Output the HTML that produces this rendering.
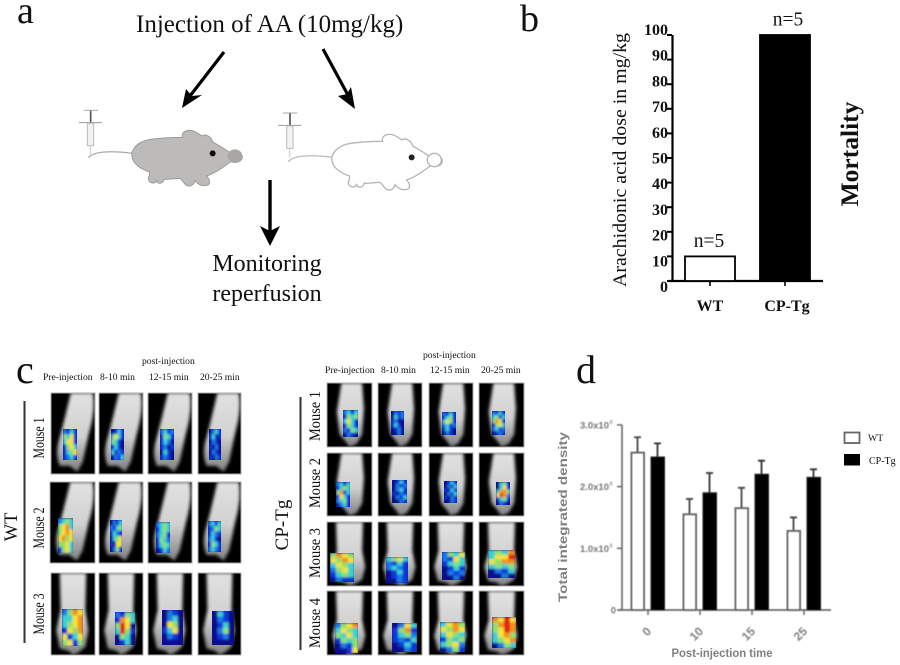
<!DOCTYPE html>
<html>
<head>
<meta charset="utf-8">
<title>Figure</title>
<style>
html,body{margin:0;padding:0;background:#fff;}
svg{display:block;}
text{font-family:"Liberation Serif",serif;fill:#111;}
.sans{font-family:"Liberation Sans",sans-serif;}
</style>
</head>
<body>
<svg id="fig" width="900" height="665" viewBox="0 0 900 665" xmlns="http://www.w3.org/2000/svg">
<defs>
  <filter id="soft" x="-20%" y="-20%" width="140%" height="140%"><feGaussianBlur stdDeviation="0.5"/></filter>
  <filter id="heatblur" x="-10%" y="-10%" width="120%" height="120%"><feGaussianBlur stdDeviation="1"/></filter>
  <filter id="bodyblur" x="-20%" y="-20%" width="140%" height="140%"><feGaussianBlur stdDeviation="1.5"/></filter>
  <linearGradient id="bodygrad" x1="0" y1="0" x2="0" y2="1">
    <stop offset="0" stop-color="#e2e2e2"/>
    <stop offset="0.55" stop-color="#d0d0d0"/>
    <stop offset="1" stop-color="#808080"/>
  </linearGradient>
  <g id="syringe">
    <path d="M72 61H115" stroke="#aaa" stroke-width="3" fill="none"/>
    <path d="M93 62V98" stroke="#555" stroke-width="5" fill="none"/>
    <path d="M58 98H127" stroke="#999" stroke-width="3" fill="none"/>
    <rect x="83" y="100" width="19" height="67" fill="#f2f2f2" stroke="#bbb" stroke-width="3"/>
    <path d="M92 168V195" stroke="#ccc" stroke-width="3" fill="none"/>
  </g>
  <path id="mouse-body" d="M216 188C225 160 255 148 290 146C320 142 350 142 368 142C362 125 385 115 405 125C415 130 422 136 426 138C435 130 455 140 458 156C480 168 495 178 510 188C525 175 550 190 547 203C543 218 525 220 512 215C490 232 465 250 440 258C450 270 455 285 435 287C420 288 410 278 405 272C400 290 385 292 375 282C368 275 365 268 360 265C340 266 325 268 312 268C310 280 295 285 290 272C282 285 265 278 265 265C268 258 270 250 268 246C235 235 212 215 216 188Z"/>
</defs>

<!-- Panel a -->
<g>
  <text x="17" y="23" font-size="38">a</text>
  <text x="136" y="32" font-size="25">Injection of AA (10mg/kg)</text>
  <g>
    <path d="M224 52L190 96" stroke="#000" stroke-width="3.2" fill="none"/>
    <path d="M182 108L186 89L192 96L202 95Z" fill="#000"/>
  </g>
  <g>
    <path d="M323 49L349 97" stroke="#000" stroke-width="3.2" fill="none"/>
    <path d="M355 109L338 96L347 94L351 87Z" fill="#000"/>
  </g>
  <g>
    <path d="M270 180V232" stroke="#000" stroke-width="3.4" fill="none"/>
    <path d="M270 246L260 226L270 231L280 226Z" fill="#000"/>
  </g>
  <text x="267" y="271" font-size="24" text-anchor="middle">Monitoring</text>
  <text x="267" y="301" font-size="24" text-anchor="middle">reperfusion</text>

  <g transform="translate(60 90) scale(.3333)" filter="url(#soft)">
    <use href="#syringe" transform="translate(-1 0)"/>
    <path d="M85 203C105 180 170 184 218 190" fill="none" stroke="#aaa" stroke-width="4"/>
    <use href="#mouse-body" fill="#bdbaba" stroke="#9a9a9a" stroke-width="3"/>
    <circle cx="458" cy="190" r="9" fill="#111"/>
    <ellipse cx="525" cy="198" rx="22" ry="20" fill="#a9a6a6"/>
  </g>
  <g transform="translate(260 94) scale(.3333)" filter="url(#soft)">
    <use href="#syringe" transform="translate(-3 -4)"/>
    <path d="M85 203C105 180 170 184 218 190" fill="none" stroke="#bbb" stroke-width="4"/>
    <use href="#mouse-body" fill="#fff" stroke="#b5b5b5" stroke-width="4"/>
    <circle cx="455" cy="190" r="9" fill="#222"/>
    <ellipse cx="523" cy="198" rx="21" ry="20" fill="#fff" stroke="#b5b5b5" stroke-width="4"/>
  </g>
</g>

<!-- Panel b -->
<g id="chart-b">
  <text x="520" y="31" font-size="38">b</text>
  <text font-size="19" text-anchor="middle" transform="translate(626 160) rotate(-90)" textLength="254" lengthAdjust="spacingAndGlyphs">Arachidonic acid dose in mg/kg</text>
  <text font-size="25.5" font-weight="bold" text-anchor="middle" transform="translate(858 154) rotate(-90)">Mortality</text>
</g>

<!-- Panel c -->
<g id="panel-c">
  <text x="16" y="383" font-size="40">c</text>
  <text x="142" y="364" font-size="9.6">post-injection</text>
  <text x="43" y="380" font-size="9.6">Pre-injection</text>
  <text x="100" y="380" font-size="9.6">8-10 min</text>
  <text x="149" y="380" font-size="9.6">12-15 min</text>
  <text x="200" y="380" font-size="9.6">20-25 min</text>
  <path d="M24.500 401V643" stroke="#333" stroke-width="2"/>
  <text font-size="18.500" text-anchor="middle" transform="translate(17 527) rotate(-90)">WT</text>
  <text font-size="15.500" text-anchor="middle" textLength="41" lengthAdjust="spacingAndGlyphs" transform="translate(44 438) rotate(-90)">Mouse 1</text>
  <text font-size="15.500" text-anchor="middle" textLength="41" lengthAdjust="spacingAndGlyphs" transform="translate(44 528) rotate(-90)">Mouse 2</text>
  <text font-size="15.500" text-anchor="middle" textLength="41" lengthAdjust="spacingAndGlyphs" transform="translate(44 614) rotate(-90)">Mouse 3</text>

  <text x="423" y="358" font-size="9.6">post-injection</text>
  <text x="325" y="373" font-size="9.6">Pre-injection</text>
  <text x="381" y="373" font-size="9.6">8-10 min</text>
  <text x="430" y="373" font-size="9.6">12-15 min</text>
  <text x="481" y="373" font-size="9.6">20-25 min</text>
  <path d="M300.500 397V650" stroke="#333" stroke-width="2"/>
  <text font-size="19" text-anchor="middle" transform="translate(288 525) rotate(-90)">CP-Tg</text>
  <text font-size="15.500" text-anchor="middle" textLength="50" lengthAdjust="spacingAndGlyphs" transform="translate(320 416) rotate(-90)">Mouse 1</text>
  <text font-size="15.500" text-anchor="middle" textLength="50" lengthAdjust="spacingAndGlyphs" transform="translate(320 483) rotate(-90)">Mouse 2</text>
  <text font-size="15.500" text-anchor="middle" textLength="50" lengthAdjust="spacingAndGlyphs" transform="translate(320 553) rotate(-90)">Mouse 3</text>
  <text font-size="15.500" text-anchor="middle" textLength="50" lengthAdjust="spacingAndGlyphs" transform="translate(320 623) rotate(-90)">Mouse 4</text>
</g>

<!-- Panel d -->
<g id="chart-d">
  <text x="576" y="383" font-size="40">d</text>
  <text class="sans" font-size="11.500" font-weight="bold" text-anchor="middle" style="fill:#808080" transform="translate(567 517) rotate(-90)" textLength="170" lengthAdjust="spacingAndGlyphs">Total integrated density</text>
  <text class="sans" x="722" y="657" font-size="12" font-weight="bold" text-anchor="middle" style="fill:#808080" textLength="101" lengthAdjust="spacingAndGlyphs">Post-injection time</text>
  <rect x="844.500" y="432.500" width="15" height="10.500" fill="#fff" stroke="#666" stroke-width="1.800"/>
  <text x="868" y="441" font-size="9.800">WT</text>
  <rect x="844" y="454" width="16" height="11.500" fill="#000"/>
  <text x="869" y="464" font-size="10">CP-Tg</text>
</g>

<script>
/* Panel b data */
var doseCategories = ['WT', 'CP-Tg'];
var doseValues = [10, 100];
var doseCounts = ['n=5', 'n=5'];
var doseTicks = [0, 10, 20, 30, 40, 50, 60, 70, 80, 90, 100];

/* Panel d data */
var timeCategories = ['0', '10', '15', '25'];
var wtDensity = [2.55, 1.55, 1.65, 1.28];
var cpTgDensity = [2.48, 1.90, 2.20, 2.15];
var wtError = [0.25, 0.25, 0.33, 0.22];
var cpTgError = [0.22, 0.32, 0.22, 0.13];
var densityTicks = [0, 1, 2, 3];
var densityTickLabels = ['0', '1.0x10', '2.0x10', '3.0x10'];

var NS = 'http://www.w3.org/2000/svg';
function mk(parent, tag, attrs, txt) {
  var el = document.createElementNS(NS, tag);
  for (var k in attrs) el.setAttribute(k, attrs[k]);
  if (txt !== undefined) el.textContent = txt;
  parent.appendChild(el);
  return el;
}

/* ---------- chart b ---------- */
(function () {
  var g = document.getElementById('chart-b');
  var yB = function (v) { return 281 - v * 2.46; };
  var yLabel = function (v) { return 292 - v * 2.57; };
  var xB = function (i) { return 710 + i * 75; };
  var axisY = mk(g, 'line', {x1: 672.5, x2: 672.5, y1: yB(100), y2: yB(0), stroke: '#000', 'stroke-width': 2.2});
  
  
  var axisX = mk(g, 'line', {x1: 668, x2: 823, y1: yB(0), y2: yB(0), stroke: '#000', 'stroke-width': 2.2});
  
  
  doseTicks.forEach(function (t) {
    var tick = mk(g, 'line', {x1: 667, x2: 672, y1: yB(t), y2: yB(t), stroke: '#000', 'stroke-width': 2});
    
    
    var lab = mk(g, 'text', {x: 668, y: yLabel(t), 'font-size': 16, 'font-weight': 'bold', 'text-anchor': 'end'}, String(t));
    
    
  });
  doseCategories.forEach(function (c, i) {
    var v = doseValues[i];
    var x = xB(i);
    var bar = mk(g, 'rect', {x: x - 25, y: yB(v), width: 50, height: yB(0) - yB(v), fill: i === 0 ? '#fff' : '#000', stroke: '#000', 'stroke-width': 1.8});
    
    
    var tick = mk(g, 'line', {x1: x, x2: x, y1: yB(0), y2: yB(0) + 5, stroke: '#000', 'stroke-width': 1.6});
    
    
    var lab = mk(g, 'text', {x: x + (i === 1 ? 2 : 0), y: 311, 'font-size': 16, 'font-weight': 'bold', 'text-anchor': 'middle'}, c);
    
    
    var n = mk(g, 'text', {x: x + (i === 0 ? -1 : 3), y: yB(v) - 9.5, 'font-size': 19.5, 'text-anchor': 'middle'}, doseCounts[i]);
    
    
  });
})();

/* ---------- chart d ---------- */
(function () {
  var root = document.getElementById('chart-d');
  var g = mk(root, 'g', {filter: 'url(#soft)'});
  
  
  var yD = function (v) { return 610 - v * 61.7; };
  var xD = function (i) { return 648 + i * 52; };
  var axisY = mk(g, 'line', {x1: 622, x2: 622, y1: yD(3), y2: yD(0), stroke: '#666', 'stroke-width': 1.6});
  
  
  var axisX = mk(g, 'line', {x1: 618, x2: 831, y1: yD(0), y2: yD(0), stroke: '#555', 'stroke-width': 1.6});
  
  
  densityTicks.forEach(function (t, i) {
    var tick = mk(g, 'line', {x1: 617, x2: 622, y1: yD(t), y2: yD(t), stroke: '#666', 'stroke-width': 1.5});
    
    
    var lab = mk(g, 'text', {x: i === 0 ? 616 : 609, y: yD(t) + 3.5, 'font-size': 9.5, 'font-weight': 'bold', 'text-anchor': 'end', 'class': 'sans', style: 'fill:#777'}, densityTickLabels[i]);
    
    
    if (i > 0) {
      var sup = mk(g, 'text', {x: 609.5, y: yD(t) - 1, 'font-size': 5.5, 'class': 'sans', style: 'fill:#777'}, '8');
      
      
    }
  });
  timeCategories.forEach(function (c, i) {
    var x = xD(i);
    var wt = wtDensity[i], cp = cpTgDensity[i];
    var ew = mk(g, 'path', {d: 'M' + (x - 10.5) + ' ' + yD(wt) + 'V' + yD(wt + wtError[i]) + 'M' + (x - 14) + ' ' + yD(wt + wtError[i]) + 'H' + (x - 7), stroke: '#444', 'stroke-width': 1.8, fill: 'none'});
    
    
    var ec = mk(g, 'path', {d: 'M' + (x + 9.5) + ' ' + yD(cp) + 'V' + yD(cp + cpTgError[i]) + 'M' + (x + 6) + ' ' + yD(cp + cpTgError[i]) + 'H' + (x + 13), stroke: '#333', 'stroke-width': 1.8, fill: 'none'});
    
    
    var bw = mk(g, 'rect', {x: x - 16.5, y: yD(wt), width: 12.5, height: yD(0) - yD(wt), fill: '#fff', stroke: '#666', 'stroke-width': 2});
    
    
    var bc = mk(g, 'rect', {x: x + 3, y: yD(cp), width: 13.5, height: yD(0) - yD(cp), fill: '#000', stroke: '#222', 'stroke-width': 1});
    
    
    var tick = mk(g, 'line', {x1: x, x2: x, y1: yD(0), y2: yD(0) + 5, stroke: '#666', 'stroke-width': 1.5});
    
    
    var lab = mk(g, 'text', {'font-size': 12, 'font-weight': 'bold', 'text-anchor': 'end', 'class': 'sans', style: 'fill:#808080', transform: 'translate(' + (x + 4) + ' 632) rotate(-45)'}, c);
    
    
  });
})();

/* ---------- panel c: imaging thumbnails (photographic illustration) ---------- */
var bodyShapes = {
  A: 'M.45 0L.95 0Q1.02 .2 .86 .5L.72 .85L.6 .97L.42 .9L.2 .9Q.08 .75 .2 .55Q.32 .3 .45 0Z',
  B: 'M.2 0L.8 0L.78 .45L.85 .7L.78 .9L.62 .97L.5 1L.4 .95L.2 .92L.12 .7L.22 .45Z',
  C: 'M.32 0L.78 0L.82 .4L.78 .8L.66 .95L.5 1L.4 .9L.28 .8L.22 .45Z'
};
var heatColors = {n: '#07108c', b: '#1038d8', s: '#1a78e8', c: '#3ed0d0', g: '#8fe070', y: '#f2e23a', o: '#f29020', r: '#e0200f'};
var thumbs = [
  /* WT */
  [51,393,44,81,'A',63,429,14,31,'sbcbgcybcyybbgycbcgybscb'],
  [99,393,44,81,'A',111,429,13,31,'nbcbcycbgcbnbcbncbsbnsbc'],
  [148,393,44,81,'A',160,429,14,31,'scbsbgcbbcsnbsnbncbnbsbn'],
  [198,393,43,81,'A',209,429,12,31,'nscbbcnbnsbnbnsnnsbnbnsb'],
  [50,482,45,81,'A',58,518,15,35,'scgcgyocgyoyyogyggycbgyc'],
  [99,482,44,81,'A',110,520,12,32,'nsbcsbcgbcsbncgybnyynsgb'],
  [148,482,44,81,'A',156,522,14,31,'scgcbcgcscgbbgcsbcgcnbcs'],
  [198,482,43,81,'A',208,521,13,31,'scbcbsgcbcsbscbnbgcbscsb'],
  [51,573,44,82,'B',62,609,21,37,'sgoyccyocgyobygoybcygybg'],
  [99,573,44,82,'B',115,612,20,33,'sbgcboycgryncrgbngcnnbcn'],
  [148,573,44,82,'B',162,610,21,35,'nsbnnscnnygnbcynnsbnnnnn'],
  [198,573,43,82,'B',212,611,22,34,'ncbnnsbnnbcnnsgnnbsnnnnn'],
  /* CP-Tg */
  [327,383,45,64,'C',343,410,15,27,'scbcbgcgcycbbgcbsbgcnsbn'],
  [378,383,44,64,'C',391,411,13,24,'nsbsncbsbsnnbcbnnbsnnnsn'],
  [429,383,44,64,'C',442,412,14,23,'sbcbbcgbcygbscbsbcbnnsbn'],
  [479,383,45,64,'C',492,411,13,24,'sbcbcgbcgoybbgycscbsnbsb'],
  [327,453,45,63,'C',336,482,14,25,'scbcbcgcgobcbycbscgbnscb'],
  [378,453,44,63,'C',392,480,15,23,'nbcbnsbsnscbbnsbnsbcnnsb'],
  [429,453,44,63,'C',444,481,13,22,'nbcbnsbcbncbnsbcbnsbnnsb'],
  [479,453,45,63,'C',496,482,14,23,'ncgbncybcoogyrosbcgbnsbn'],
  [327,522,45,64,'B',330,553,24,29,'goygygoycygcsgycbcgcnsbb'],
  [378,522,44,64,'B',386,557,22,26,'cgycsbcbscsbnbcbnbsbnnsb'],
  [429,522,44,64,'B',442,552,23,28,'sgcysbycbcgcnbcbnsbsnnsn'],
  [479,522,45,64,'B',488,550,27,28,'cgcocyyrygoocgcgnsbcnnsn'],
  [327,591,45,64,'B',335,623,23,30,'sgyocygcgcycbgcgnsbgnnby'],
  [378,591,44,64,'B',392,623,25,29,'nsycbgobbcgsbsbcnbcbnnsb'],
  [429,591,44,64,'B',440,622,25,30,'cyogygoycygcbgcgcgysnsgb'],
  [479,591,45,64,'B',492,617,24,31,'oyrygorogyrocyogcgyonsgc']
];
(function () {
  var root = document.getElementById('panel-c');
  thumbs.forEach(function (t, idx) {
    var px = t[0], py = t[1], pw = t[2], ph = t[3];
    var g = mk(root, 'g', {});
    
    
    var clipId = 'thumbclip' + idx;
    var heatId = 'heatclip' + idx;
    var defs = mk(g, 'defs', {});
    var c1 = mk(defs, 'clipPath', {id: clipId});
    mk(c1, 'rect', {x: px, y: py, width: pw, height: ph});
    var c2 = mk(defs, 'clipPath', {id: heatId});
    mk(c2, 'rect', {x: t[5], y: t[6], width: t[7], height: t[8]});
    var frame = mk(g, 'rect', {x: px, y: py, width: pw, height: ph, fill: '#000', stroke: '#aaa', 'stroke-width': 1});
    
    
    var clip = mk(g, 'g', {'clip-path': 'url(#' + clipId + ')'});
    var blurGroup = mk(clip, 'g', {filter: 'url(#bodyblur)'});
    var body = mk(blurGroup, 'path', {d: bodyShapes[t[4]], fill: 'url(#bodygrad)', transform: 'translate(' + px + ' ' + py + ') scale(' + pw + ' ' + ph + ')'});
    
    
    var heat = mk(g, 'g', {'clip-path': 'url(#' + heatId + ')'});
    
    
    mk(heat, 'rect', {x: t[5], y: t[6], width: t[7], height: t[8], fill: '#07108c'});
    var blur = mk(heat, 'g', {filter: 'url(#heatblur)'});
    var cw = t[7] / 4, ch = t[8] / 6;
    for (var k = 0; k < 24; k++) {
      var col = k % 4, row = Math.floor(k / 4);
      mk(blur, 'rect', {x: t[5] + col * cw, y: t[6] + row * ch, width: cw + .5, height: ch + .5, fill: heatColors[t[9].charAt(k)] || '#07108c'});
    }
  });
})();
</script>
</svg>
</body>
</html>
